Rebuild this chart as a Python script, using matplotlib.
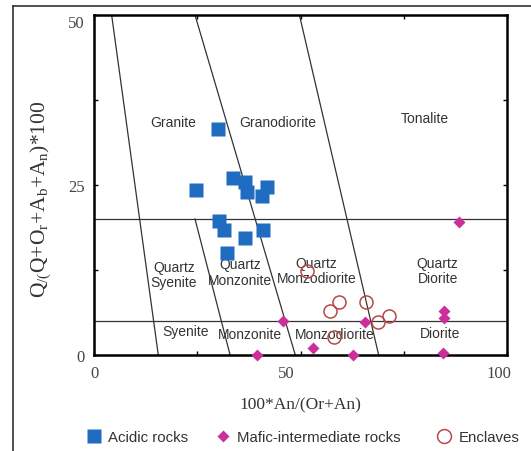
import matplotlib.pyplot as plt
from matplotlib.lines import Line2D
from matplotlib.transforms import ScaledTranslation

plt.rcParams['mathtext.fontset'] = 'custom'
plt.rcParams['mathtext.rm'] = 'Liberation Serif'
plt.rcParams['mathtext.it'] = 'Liberation Serif:italic'

# sample points, 100*An/(Or+An) vs Q/(Q+Or+Ab+An)*100
acidic_x = [29.9, 24.6, 33.5, 36.5, 37.0, 40.6, 41.9, 30.3, 31.5, 40.8, 36.6, 32.1]
acidic_y = [33.3, 24.3, 26.0, 25.5, 23.9, 23.4, 24.7, 19.75, 18.4, 18.4, 17.2, 15.0]

mafic_x = [88.3, 45.7, 53.1, 39.4, 62.7, 65.6, 84.8, 84.8, 84.4]
mafic_y = [19.6, 5.0, 1.0, 0.0, 0.0, 4.8, 6.5, 5.4, 0.3]

encl_x = [51.5, 57.0, 59.2, 65.9, 68.7, 71.3, 58.0]
encl_y = [12.4, 6.5, 7.75, 7.75, 4.9, 5.7, 2.6]

# field boundaries (x0, y0, x1, y1)
boundaries = [
    (4.2, 50, 15.5, 0),
    (24.4, 50, 48.7, 0),
    (24.4, 20, 32.9, 0),
    (49.7, 50, 68.9, 0),
    (0, 20, 100, 20),
    (0, 5, 100, 5),
]

fields = [
    ('Granite', 19.0, 34.2), ('Granodiorite', 44.5, 34.2), ('Tonalite', 80.2, 34.8),
    ('Quartz\nSyenite', 19.3, 11.8), ('Quartz\nMonzonite', 35.4, 12.2),
    ('Quartz\nMonzodiorite', 53.9, 12.4), ('Quartz\nDiorite', 83.2, 12.4),
    ('Syenite', 22.0, 3.6), ('Monzonite', 37.8, 3.1), ('Monzodiorite', 58.3, 3.1),
    ('Diorite', 83.7, 3.3),
]

blue = '#1f6cc0'
magenta = '#cc2e9c'
red = '#b8474a'

fig = plt.figure(figsize=(5.31, 4.52), dpi=100)
ax = fig.add_axes([0.1776, 0.2124, 0.7772, 0.7522])

for x0, y0, x1, y1 in boundaries:
    ax.plot([x0, x1], [y0, y1], color='#333333', lw=0.9, zorder=1)

for name, x, y in fields:
    ax.text(x, y, name, ha='center', va='center', fontsize=10, color='#333333',
            family='Liberation Sans', linespacing=1.1, zorder=2)

ax.plot(acidic_x, acidic_y, 's', color=blue, ms=9.4, mec='none', zorder=3, clip_on=False)
ax.plot(mafic_x, mafic_y, 'D', color=magenta, ms=6.6, mec='none', zorder=4, clip_on=False)
ax.plot(encl_x, encl_y, 'o', mfc='none', mec=red, ms=9.4, mew=1.1, zorder=5, clip_on=False)

ax.set_xlim(0, 100)
ax.set_ylim(0, 50)
ax.set_xticks([0, 25, 50, 75, 100])
ax.set_xticklabels(['0', '', '50', '', '100'])
ax.set_yticks([0, 12.5, 25, 37.5, 50])
ax.set_yticklabels(['0', '', '25', '', '50'])
ax.tick_params(direction='in', length=3, width=1, top=True, right=True,
               labelsize=12, labelcolor='#444444', pad=7)
for lab in ax.get_xticklabels() + ax.get_yticklabels():
    lab.set_family('Liberation Serif')
ax.get_yticklabels()[-1].set_va('top')
# the x labels sit a little left of their ticks in the original
for lab, dx in zip(ax.get_xticklabels(), [0, 0, -14, 0, -8]):
    lab.set_transform(lab.get_transform() + ScaledTranslation(dx / 100, 0, fig.dpi_scale_trans))

for sp in ax.spines.values():
    sp.set_linewidth(1.8)

ax.set_xlabel('100*An/(Or+An)', fontsize=12.5, family='Liberation Serif',
              color='#333333', labelpad=11)
ax.set_ylabel(r'Q$_{\mathrm{/(}}$Q+O$_{\mathrm{r}}$+A$_{\mathrm{b}}$+A$_{\mathrm{n}}$)*100',
              fontsize=15.5, family='Liberation Serif', color='#333333')
ax.yaxis.set_label_coords(-0.1, 0.46)

# legend entries, one per group
entries = [
    (Line2D([], [], ls='none', marker='s', color=blue, ms=10.5, mec='none'), 'Acidic rocks', 0.1633),
    (Line2D([], [], ls='none', marker='D', color=magenta, ms=6.2, mec='none'), 'Mafic-intermediate rocks', 0.405),
    (Line2D([], [], ls='none', marker='o', mfc='none', mec=red, ms=10, mew=1.1), 'Enclaves', 0.8224),
]
for h, lab, x0 in entries:
    fig.legend([h], [lab], loc='center left', bbox_to_anchor=(x0, 0.03), frameon=False,
               borderpad=0, borderaxespad=0, handlelength=1, handletextpad=0.45,
               prop={'family': 'Liberation Sans', 'size': 10.8}, labelcolor='#333333')

# frame around the figure (left and top edges)
fig.add_artist(Line2D([0.0245, 0.0245], [0, 0.9845], color='#333333', lw=1.2))
fig.add_artist(Line2D([0.0245, 1], [0.9845, 0.9845], color='#333333', lw=1.2))

fig.savefig('out.png', dpi=100)
